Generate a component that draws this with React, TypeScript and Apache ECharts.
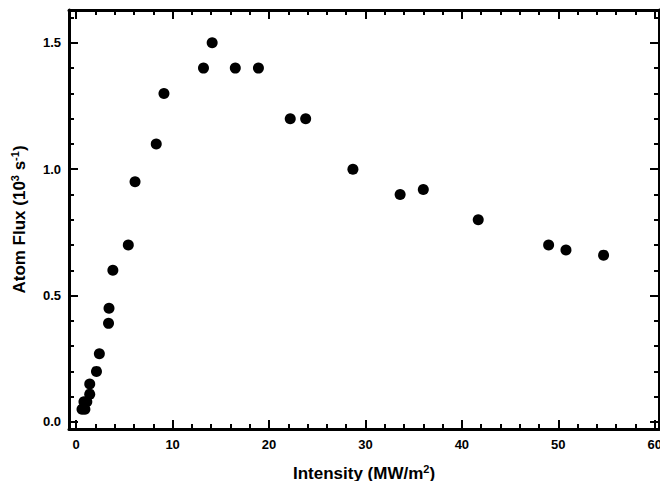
import React, { useEffect, useRef } from "react";
import * as echarts from "echarts";

const intensity = [0.6, 0.9, 0.8, 1.1, 1.4, 1.4, 2.1, 2.4, 3.35, 3.4, 3.8, 5.4, 6.1, 8.3, 9.1, 13.2, 14.1, 16.5, 18.9, 22.2, 23.8, 28.7, 33.6, 36.0, 41.7, 49.0, 50.8, 54.7];
const atomFlux = [0.05, 0.05, 0.08, 0.08, 0.11, 0.15, 0.2, 0.27, 0.39, 0.45, 0.6, 0.7, 0.95, 1.1, 1.3, 1.4, 1.5, 1.4, 1.4, 1.2, 1.2, 1.0, 0.9, 0.92, 0.8, 0.7, 0.68, 0.66];

const FONT = "Liberation Sans";
const X_MIN = -0.75, X_MAX = 60.45;
const Y_MIN = -0.028, Y_MAX = 1.63;
const X_TICK_MAX = 60, X_MAJOR = 10, X_MINOR = 2;
const Y_MAJOR_MAX = 1.5, Y_MAJOR = 0.5;
const Y_MINOR_MAX = 1.6, Y_MINOR = 0.1;

export default function App() {
  const ref = useRef<HTMLDivElement>(null);
  useEffect(() => {
    if (!ref.current) return;
    const chart = echarts.init(ref.current, null, { renderer: "svg" });
    const W = 660, H = 481;
    const gl = 69, gr = 1, gt = 10, gb = 52;
    const plotW = W - gl - gr, plotH = H - gt - gb;
    const xPx = (v: number) => gl + ((v - X_MIN) / (X_MAX - X_MIN)) * plotW;
    const yPx = (v: number) => gt + ((Y_MAX - v) / (Y_MAX - Y_MIN)) * plotH;
    const r = (v: number) => Math.round(v * 10) / 10;

    const spine = () => ({ show: true, onZero: false, lineStyle: { color: "#000000", width: 3 } });
    const noLine = () => ({ show: false, onZero: false });
    const tick = (len: number) => ({ show: true, inside: true, length: len, lineStyle: { color: "#000000", width: 2 } });
    const none = () => ({ axisLine: noLine(), axisTick: { show: false }, axisLabel: { show: false }, splitLine: { show: false } });
    const titleStyle = () => ({
      color: "#000", fontFamily: FONT, fontWeight: "bold", fontSize: 17,
      rich: { sup: { fontSize: 11, fontWeight: "bold", fontFamily: FONT, color: "#000", verticalAlign: "top", padding: [0, 0, 9, 0] } },
    });
    const g = (left: number, right: number, top: number, bottom: number) => ({ show: false, left: r(left), right: r(right), top: r(top), bottom: r(bottom), outerBoundsMode: "none" });
    const Z = 20;

    const xTickGridL = xPx(0), xTickGridR = W - xPx(X_TICK_MAX);

    chart.setOption({
      animation: false,
      grid: [
        g(gl, gr, gt, gb),
        g(xTickGridL, xTickGridR, gt, gb),
        g(xTickGridL, xTickGridR, gt, gb),
        g(gl, gr, yPx(Y_MAJOR_MAX), H - yPx(0)),
        g(gl, gr, yPx(Y_MINOR_MAX), H - yPx(0)),
      ],
      xAxis: [
        { type: "value", z: Z, gridIndex: 0, position: "bottom", min: X_MIN, max: X_MAX, axisLine: spine(), axisTick: { show: false }, axisLabel: { show: false }, splitLine: { show: false },
          name: "Intensity (MW/m{sup|2})", nameLocation: "middle", nameGap: 34, nameTextStyle: titleStyle() },
        { type: "value", z: Z, gridIndex: 0, position: "top", min: X_MIN, max: X_MAX, axisLine: spine(), axisTick: { show: false }, axisLabel: { show: false }, splitLine: { show: false } },
        { type: "value", z: Z, gridIndex: 1, position: "bottom", min: 0, max: X_TICK_MAX, interval: X_MAJOR,
          axisLine: noLine(), splitLine: { show: false }, axisTick: tick(9),
          axisLabel: { show: true, margin: 9, color: "#000", fontFamily: FONT, fontWeight: "bold", fontSize: 13 } },
        { type: "value", z: Z, gridIndex: 1, position: "top", min: 0, max: X_TICK_MAX, interval: X_MAJOR,
          axisLine: noLine(), splitLine: { show: false }, axisTick: tick(9), axisLabel: { show: false } },
        { type: "value", z: Z, gridIndex: 2, position: "bottom", min: 0, max: X_TICK_MAX, interval: X_MINOR,
          axisLine: noLine(), splitLine: { show: false }, axisTick: tick(5), axisLabel: { show: false } },
        { type: "value", z: Z, gridIndex: 2, position: "top", min: 0, max: X_TICK_MAX, interval: X_MINOR,
          axisLine: noLine(), splitLine: { show: false }, axisTick: tick(5), axisLabel: { show: false } },
        { type: "value", gridIndex: 3, min: 0, max: 1, ...none() },
        { type: "value", gridIndex: 4, min: 0, max: 1, ...none() },
      ],
      yAxis: [
        { type: "value", z: Z, gridIndex: 0, position: "left", min: Y_MIN, max: Y_MAX, axisLine: spine(), axisTick: { show: false }, axisLabel: { show: false }, splitLine: { show: false },
          name: "Atom Flux (10{sup|3} s{sup|-1})", nameLocation: "middle", nameGap: 40, nameRotate: 90, nameTextStyle: titleStyle() },
        { type: "value", z: Z, gridIndex: 0, position: "right", min: Y_MIN, max: Y_MAX, axisLine: spine(), axisTick: { show: false }, axisLabel: { show: false }, splitLine: { show: false } },
        { type: "value", gridIndex: 1, min: 0, max: 1, ...none() },
        { type: "value", gridIndex: 2, min: 0, max: 1, ...none() },
        { type: "value", z: Z, gridIndex: 3, position: "left", min: 0, max: Y_MAJOR_MAX, interval: Y_MAJOR,
          axisLine: noLine(), splitLine: { show: false }, axisTick: tick(9),
          axisLabel: { show: true, margin: 8, color: "#000", fontFamily: FONT, fontWeight: "bold", fontSize: 13, formatter: (v: number) => v.toFixed(1) } },
        { type: "value", z: Z, gridIndex: 3, position: "right", min: 0, max: Y_MAJOR_MAX, interval: Y_MAJOR,
          axisLine: noLine(), splitLine: { show: false }, axisTick: tick(9), axisLabel: { show: false } },
        { type: "value", z: Z, gridIndex: 4, position: "left", min: 0, max: Y_MINOR_MAX, interval: Y_MINOR,
          axisLine: noLine(), splitLine: { show: false }, axisTick: tick(5), axisLabel: { show: false } },
        { type: "value", z: Z, gridIndex: 4, position: "right", min: 0, max: Y_MINOR_MAX, interval: Y_MINOR,
          axisLine: noLine(), splitLine: { show: false }, axisTick: tick(5), axisLabel: { show: false } },
      ],
      series: [
        {
          type: "scatter",
          xAxisIndex: 0,
          yAxisIndex: 0,
          symbol: "circle",
          symbolSize: 11,
          itemStyle: { color: "#000", opacity: 1 },
          data: intensity.map((x, i) => [x, atomFlux[i]]),
        },
      ],
    });
    return () => chart.dispose();
  }, []);
  return <div ref={ref} style={{ width: 660, height: 481, position: "fixed", left: 0, top: 0, background: "#fff" }} />;
}
